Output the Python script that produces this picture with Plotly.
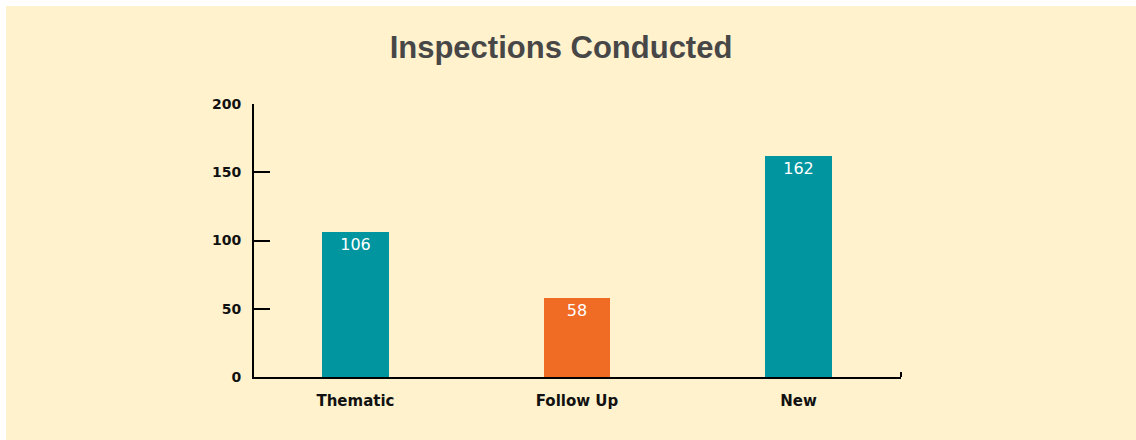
import plotly.graph_objects as go

categories = ["Thematic", "Follow Up", "New"]
values = [106, 58, 162]
bar_colors = ["#00959F", "#F06B24", "#00959F"]
y_ticks = [0, 50, 100, 150, 200]

W, H = 1136, 440
L, R, T, B = 254, 235, 104, 63
pw, ph = W - L - R, H - T - B

cream = "#FFF2CD"
title_font = "Liberation Sans, Arial, sans-serif"
label_font = "DejaVu Sans, sans-serif"

fig = go.Figure(
    go.Bar(
        x=categories,
        y=values,
        marker=dict(color=bar_colors, line=dict(width=0)),
        width=0.302,
        text=[str(v) for v in values],
        textposition="inside",
        insidetextanchor="end",
        textfont=dict(color="white", size=16, family=label_font),
        textangle=0,
        hoverinfo="x+y",
    )
)

def px_x(p):
    return (p - L) / pw

def px_y(p):
    return 1 - (p - T) / ph

shapes = [
    # white strips on top and left edges
    dict(type="rect", xref="paper", yref="paper", x0=px_x(0), x1=px_x(6), y0=px_y(H), y1=px_y(0),
         fillcolor="white", line=dict(width=0), layer="below"),
    dict(type="rect", xref="paper", yref="paper", x0=px_x(0), x1=px_x(W), y0=px_y(6), y1=px_y(0),
         fillcolor="white", line=dict(width=0), layer="below"),
    # small end tick at right of x axis
    dict(type="line", xref="paper", yref="paper", x0=1, x1=1, y0=0, y1=px_y(H - B - 5),
         line=dict(color="black", width=2)),
]

fig.update_layout(
    width=W,
    height=H,
    margin=dict(l=L, r=R, t=T, b=B, pad=0),
    paper_bgcolor=cream,
    plot_bgcolor=cream,
    showlegend=False,
    bargap=0,
    shapes=shapes,
    title=dict(
        text="<b>Inspections Conducted</b>",
        x=561 / W,
        xref="container",
        xanchor="center",
        y=1 - 47 / H,
        yref="container",
        yanchor="middle",
        font=dict(size=31, color="#474747", family=title_font),
    ),
    xaxis=dict(
        type="category",
        range=[-0.458, 2.463],
        showgrid=False,
        showline=True,
        linecolor="black",
        linewidth=2,
        ticks="",
        tickfont=dict(size=15, color="#111111", family=label_font),
        ticklabelstandoff=9,
        tickprefix="<b>",
        ticksuffix="</b>",
        fixedrange=True,
    ),
    yaxis=dict(
        range=[0, 200],
        tickvals=y_ticks,
        ticktext=[f"<b>{v}</b>" for v in y_ticks],
        showgrid=False,
        zeroline=False,
        showline=True,
        linecolor="black",
        linewidth=2,
        ticks="inside",
        ticklen=16,
        tickwidth=2,
        tickcolor="black",
        tickfont=dict(size=14, color="#111111", family=label_font),
        ticklabelstandoff=8,
        fixedrange=True,
    ),
)

fig.write_html(
    "out.html",
    config={"displayModeBar": False},
    post_script="document.body.style.margin='0';document.body.style.padding='0';",
)
